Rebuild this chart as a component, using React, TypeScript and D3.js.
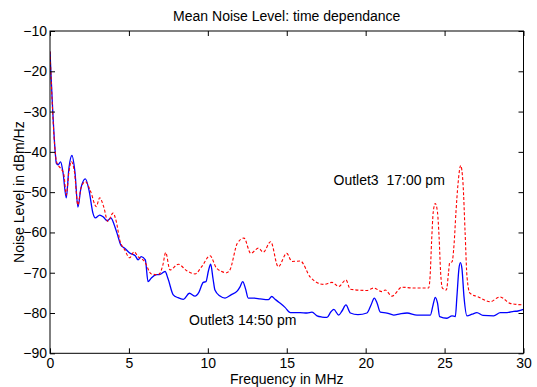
import React, { useRef, useEffect } from "react";
import * as d3 from "d3";

// Outlet3 14:50 pm (solid blue)
const freq1450 = [
  0, 0.33, 0.4, 0.51, 0.67, 0.82, 1.03, 1.2, 1.39, 1.58, 1.77, 1.96, 2.24, 2.47, 2.72, 2.87,
  3.15, 3.39, 3.63, 3.85, 4.06, 4.31, 4.48, 4.73, 5.05, 5.4, 5.58, 5.78, 6.04, 6.21, 6.42,
  6.73, 6.97, 7.29, 7.48, 7.81, 8.11, 8.45, 8.83, 9.19, 9.44, 9.71, 9.88, 10.04, 10.18,
  10.33, 10.45, 10.77, 11.09, 11.47, 11.87, 12.04, 12.21, 12.39, 12.56, 12.93, 13.31, 13.83,
  14.05, 14.26, 14.59, 14.89, 15.23, 15.84, 16.28, 16.6, 16.92, 17.23, 17.55, 17.8, 17.98,
  18.29, 18.5, 18.75, 19.03, 19.51, 20.08, 20.34, 20.55, 20.72, 20.93, 21.35, 21.78, 22.18,
  22.62, 23.25, 23.76, 24.1, 24.27, 24.41, 24.55, 24.69, 25.15, 25.47, 25.68, 25.78, 25.91,
  26.0, 26.1, 26.23, 26.42, 26.74, 27.05, 27.43, 28.11, 28.53, 28.96, 29.38, 29.65, 30,
];
const level1450 = [
  -15.1, -40, -42.8, -43.2, -42.5, -45, -51.4, -44, -40.9, -45, -53.7, -49, -46.7, -49.5, -55.2, -56.4,
  -55.7, -56.2, -57.1, -56.4, -58, -61, -63.1, -63.9, -65.1, -65.8, -66.8, -66, -66.8, -72.2, -71.3,
  -70.5, -70.4, -69.7, -71.5, -75.5, -76.2, -76.6, -75.1, -75.8, -74.8, -72.4, -72.2, -69.5, -67.9,
  -71.5, -74.3, -75.8, -76.3, -75.5, -74.5, -73.5, -72.2, -74, -76.3, -76.3, -76.5, -76.7,
  -75.9, -76.6, -77.6, -78.6, -79.9, -79.9, -80.0, -79.8, -80.7, -81, -81.1, -79.7, -79.1,
  -80.5, -79.5, -78, -80, -80.4, -80, -78, -76.3, -77.5, -79.8, -80, -80.5, -80.2,
  -80, -80.5, -80.5, -80.5, -78, -76.1, -77.5, -80.9, -81.3, -80.7, -80.9, -76, -69,
  -67.5, -69, -76, -80.7, -80.3, -79.9, -80.6, -80.7, -79.9, -79.9, -79.6, -79.5, -79.1,
];

// Outlet3 17:00 pm (dashed red)
const freq1700 = [
  0, 0.33, 0.4, 0.55, 0.68, 0.88, 1.03, 1.2, 1.35, 1.55, 1.77, 1.96, 2.24, 2.58, 2.93, 3.15,
  3.4, 3.67, 3.99, 4.2, 4.42, 4.73, 5.05, 5.32, 5.58, 5.99, 6.42, 6.84, 6.97, 7.15, 7.33,
  7.6, 8.13, 8.66, 9.19, 9.61, 10.14, 10.56, 11.2, 11.4, 11.87, 12.29, 12.72, 13.2, 13.51,
  13.98, 14.46, 15.0, 15.33, 15.86, 16.49, 17.34, 17.87, 18.29, 18.75, 19.03, 20.08, 20.51,
  21.03, 21.24, 21.67, 22.3, 23.04, 23.99, 24.08, 24.18, 24.28, 24.41, 24.55, 24.65, 24.75,
  24.86, 25.11, 25.25, 25.32, 25.47, 25.6, 25.72, 25.85, 26.02, 26.17, 26.3, 26.42, 26.61,
  27.14, 27.88, 28.51, 29.15, 30,
];
const level1700 = [
  -15.1, -40, -42.2, -43.5, -44.1, -45.7, -50.7, -45, -42.4, -45, -53.2, -49, -47.4, -49.9, -53.6, -51.4,
  -53.6, -57.3, -55.2, -57.3, -61.9, -64.3, -66.3, -64.8, -66, -67.2, -70.3, -70.5, -70.1, -68.1, -65,
  -69.3, -67.9, -69.5, -70.3, -68.5, -65.8, -68.9, -70, -69.3, -62.7, -61.4, -65.2, -63.9, -64.9,
  -62.3, -68.5, -65.2, -67.2, -67.1, -71.1, -72.9, -72.4, -73.4, -71.8, -74.1, -74.4, -73.8,
  -74.7, -74.3, -75.8, -73.6, -73.8, -73.8, -71, -62, -55, -52.8, -55, -61, -70,
  -73.8, -74.3, -70, -67.5, -67.3, -63, -55, -48, -43.4, -48, -60, -71, -75.1,
  -76, -77.2, -76, -77.6, -78,
];

const xTicks = [0, 5, 10, 15, 20, 25, 30];
const yTicks = [-90, -80, -70, -60, -50, -40, -30, -20, -10];

const W = 537;
const H = 387;
const left = 50;
const right = 523.5;
const top = 31;
const bottom = 353.3;
const font = "'Liberation Sans', Arial, Helvetica, sans-serif";

const App = () => {
  const gx = useRef(null);
  const gy = useRef(null);
  const gxTop = useRef(null);
  const gyRight = useRef(null);

  const x = d3.scaleLinear().domain([0, 30]).range([left, right]);
  const y = d3.scaleLinear().domain([-90, -10]).range([bottom, top]);

  useEffect(() => {
    const style = (g) => {
      g.select(".domain").remove();
      g.selectAll(".tick line").attr("stroke", "#000");
      g.selectAll(".tick text")
        .attr("font-family", font)
        .attr("font-size", 14)
        .attr("fill", "#000");
    };
    d3.select(gx.current)
      .call(d3.axisBottom(x).tickValues(xTicks).tickSize(-5).tickPadding(5))
      .call(style);
    d3.select(gy.current)
      .call(d3.axisLeft(y).tickValues(yTicks).tickSize(-5).tickPadding(3))
      .call(style);
    d3.select(gxTop.current)
      .call(d3.axisTop(x).tickValues(xTicks).tickSize(-5).tickFormat(() => ""))
      .call(style);
    d3.select(gyRight.current)
      .call(d3.axisRight(y).tickValues(yTicks).tickSize(-5).tickFormat(() => ""))
      .call(style);
  }, []);

  const line = d3
    .line()
    .x((d) => x(d[0]))
    .y((d) => y(d[1]))
    .curve(d3.curveMonotoneX);

  const blue = line(freq1450.map((f, i) => [f, level1450[i]]));
  const red = line(freq1700.map((f, i) => [f, level1700[i]]));

  return (
    <svg
      width={W}
      height={H}
      style={{ position: "absolute", left: 0, top: 0, background: "#fff" }}
    >
      <rect x={0} y={0} width={W} height={H} fill="#fff" />
      <defs>
        <clipPath id="plot-clip">
          <rect x={left} y={top} width={right - left} height={bottom - top} />
        </clipPath>
      </defs>
      <g clipPath="url(#plot-clip)">
        <path d={blue} fill="none" stroke="#0000ff" strokeWidth={1.3} />
        <path
          d={red}
          fill="none"
          stroke="#ff0000"
          strokeWidth={1.1}
          strokeDasharray="3,2"
        />
      </g>
      <rect
        x={left}
        y={top}
        width={right - left}
        height={bottom - top}
        fill="none"
        stroke="#000"
        strokeWidth={1}
      />
      <g ref={gx} transform={`translate(0, ${bottom})`} />
      <g ref={gy} transform={`translate(${left}, 0)`} />
      <g ref={gxTop} transform={`translate(0, ${top})`} />
      <g ref={gyRight} transform={`translate(${right}, 0)`} />

      <text
        x={(left + right) / 2}
        y={21}
        textAnchor="middle"
        fontFamily={font}
        fontSize={14}
      >
        Mean Noise Level: time dependance
      </text>
      <text
        x={(left + right) / 2}
        y={384}
        textAnchor="middle"
        fontFamily={font}
        fontSize={14}
      >
        Frequency in MHz
      </text>
      <text
        transform={`translate(24, ${(top + bottom) / 2}) rotate(-90)`}
        textAnchor="middle"
        fontFamily={font}
        fontSize={14}
      >
        Noise Level in dBm/Hz
      </text>
      <text
        x={333.5}
        y={185}
        fontFamily={font}
        fontSize={14}
        style={{ whiteSpace: "pre" }}
      >
        {"Outlet3  17:00 pm"}
      </text>
      <text x={189} y={325} fontFamily={font} fontSize={14}>
        Outlet3 14:50 pm
      </text>
    </svg>
  );
};

export default App;
